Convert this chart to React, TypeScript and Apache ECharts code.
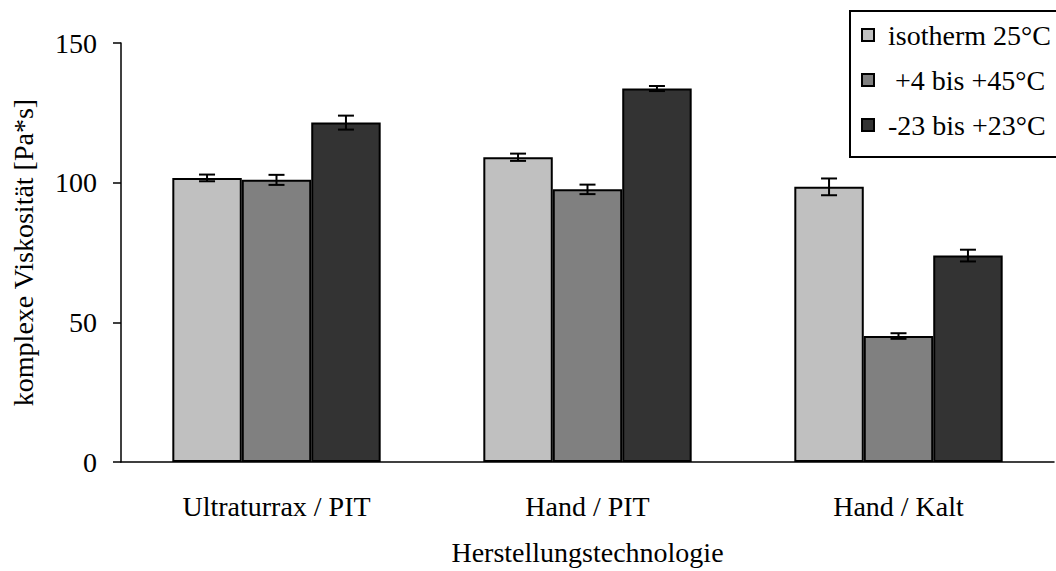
import React, { useEffect, useRef } from "react";
import * as echarts from "echarts";

const categories = ["Ultraturrax / PIT", "Hand / PIT", "Hand / Kalt"];
const seriesNames = ["isotherm 25°C", " +4 bis +45°C", "-23 bis +23°C"];
const isotherm = [101.7, 109.1, 98.5];
const warm = [101.0, 97.6, 45.1];
const cold = [121.5, 133.7, 73.9];
const isothermErr = [1.2, 1.3, 3.0];
const warmErr = [1.8, 1.7, 1.0];
const coldErr = [2.5, 0.9, 2.1];
const yTicks = [0, 50, 100, 150];

const colors = ["#C0C0C0", "#808080", "#333333"];
const FONT = "'Liberation Serif', 'Times New Roman', serif";
const FS = 28;
const GAP = 0.33;

export default function App() {
  const ref = useRef<HTMLDivElement>(null);
  useEffect(() => {
    document.body.style.margin = "0";
    document.body.style.overflow = "hidden";
    const chart = echarts.init(ref.current!, null, { renderer: "svg" });
    const values = [isotherm, warm, cold];
    const errs = [isothermErr, warmErr, coldErr];
    const bars = values.map((v, i) => ({
      name: seriesNames[i],
      type: "bar",
      data: v,
      barGap: "0%",
      barCategoryGap: GAP * 100 + "%",
      itemStyle: { color: colors[i], borderColor: "#000", borderWidth: 2 },
    }));
    const errData: number[][] = [];
    values.forEach((v, s) =>
      v.forEach((val, c) => errData.push([c, val - errs[s][c], val + errs[s][c], s]))
    );
    const errSeries = {
      type: "custom",
      name: "err",
      data: errData,
      z: 10,
      renderItem: (params: any, api: any) => {
        const c = api.value(0);
        const lo = api.value(1);
        const hi = api.value(2);
        const s = api.value(3);
        const catW = api.size([1, 0])[0];
        const bw = (catW * (1 - GAP)) / 3;
        const p1 = api.coord([c, lo]);
        const p2 = api.coord([c, hi]);
        const x = p1[0] + (s - 1) * bw;
        const hw = 8;
        const style = { stroke: "#000", lineWidth: 2 };
        return {
          type: "group",
          children: [
            { type: "line", shape: { x1: x, y1: p1[1], x2: x, y2: p2[1] }, style },
            { type: "line", shape: { x1: x - hw, y1: p1[1], x2: x + hw, y2: p1[1] }, style },
            { type: "line", shape: { x1: x - hw, y1: p2[1], x2: x + hw, y2: p2[1] }, style },
          ],
        };
      },
    };
    chart.setOption({
      animation: false,
      backgroundColor: "#fff",
      textStyle: { fontFamily: FONT },
      grid: { left: 121, right: 2, top: 43, bottom: 105, containLabel: false },
      graphic: [
        {
          type: "polyline",
          shape: { points: [[1100, 11], [850, 11], [850, 157], [1100, 157]] },
          style: { fill: null, stroke: "#000", lineWidth: 2 },
          z: 6,
        },
      ],
      legend: {
        data: seriesNames,
        orient: "vertical",
        left: 850,
        top: 11,
        z: 10,
        padding: [10, 0, 18, 11],
        itemGap: 17,
        itemWidth: 12,
        itemHeight: 12,
        icon: "rect",
        itemStyle: { borderColor: "#000", borderWidth: 2 },
        textStyle: { fontFamily: FONT, fontSize: FS, color: "#000", padding: [0, 0, 0, 9] },
      },
      xAxis: {
        type: "category",
        data: categories,
        name: "Herstellungstechnologie",
        nameLocation: "middle",
        nameGap: 76,
        nameTextStyle: { fontFamily: FONT, fontSize: FS, color: "#000" },
        axisLine: { lineStyle: { color: "#000", width: 1.5 } },
        axisTick: { length: 8, lineStyle: { color: "#000", width: 1.5 } },
        axisLabel: { fontFamily: FONT, fontSize: FS, color: "#000", margin: 30 },
      },
      yAxis: {
        type: "value",
        min: yTicks[0],
        max: yTicks[yTicks.length - 1],
        interval: 50,
        name: "komplexe Viskosität [Pa*s]",
        nameLocation: "middle",
        nameGap: 84,
        nameTextStyle: { fontFamily: FONT, fontSize: FS, color: "#000" },
        splitLine: { show: false },
        axisLine: { show: true, lineStyle: { color: "#000", width: 1.5 } },
        axisTick: { show: true, length: 8, lineStyle: { color: "#000", width: 1.5 } },
        axisLabel: { fontFamily: FONT, fontSize: FS, color: "#000", margin: 24 },
      },
      series: [...bars, errSeries],
    });
    return () => chart.dispose();
  }, []);
  return <div ref={ref} style={{ width: 1056, height: 571 }} />;
}
